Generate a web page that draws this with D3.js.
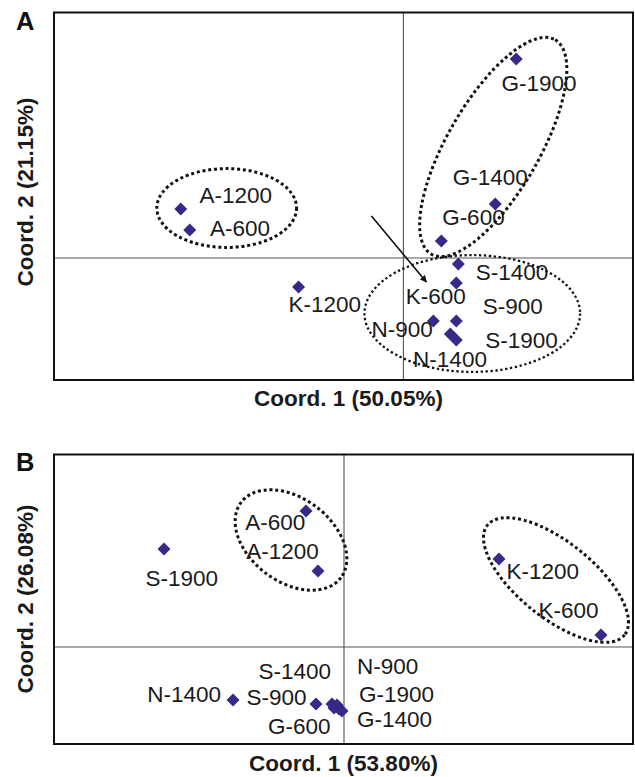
<!DOCTYPE html>
<html><head><meta charset="utf-8">
<script src="https://cdn.jsdelivr.net/npm/d3@7"></script>
<style>
body{margin:0;background:#fff}
text{font-family:"Liberation Sans",Arial,Helvetica,sans-serif}
</style></head>
<body><svg id="chart" width="635" height="777"></svg>
<script>
// ---------- Panel A data ----------
const samplesA = ["A-1200","A-600","K-1200","G-1900","G-1400","G-600","S-1400","K-600","S-900","N-900","N-1400","S-1900"];
const coord1A  = [-0.223,-0.214,-0.105, 0.113, 0.092, 0.038, 0.055, 0.053, 0.053, 0.030, 0.047, 0.053];
const coord2A  = [ 0.049, 0.028,-0.029, 0.199, 0.054, 0.017,-0.006,-0.025,-0.063,-0.063,-0.076,-0.082];
const axisTitlesA = ["Coord. 1 (50.05%)","Coord. 2 (21.15%)"];
// groups: name, centre (coord1, coord2), semi-axes, rotation (deg)
const groupsA = ["A","G","S"];
const groupCx_A = [-0.177, 0.090, 0.069];
const groupCy_A = [ 0.050, 0.111,-0.0555];
const groupRa_A = [ 0.070, 0.124, 0.108];
const groupRb_A = [ 0.0395,0.046, 0.0585];
const groupRot_A = [0, -60, 0];
const arrowA = [[-0.032, 0.042],[0.023,-0.024]];

// ---------- Panel B data ----------
const samplesB = ["A-600","A-1200","S-1900","K-1200","K-600","N-1400","S-900","S-1400","G-600","N-900","G-1900","G-1400"];
const coord1B  = [-0.038,-0.026,-0.180, 0.155, 0.257,-0.111,-0.028,-0.012,-0.010,-0.007,-0.005,-0.002];
const coord2B  = [ 0.136, 0.076, 0.098, 0.088, 0.012,-0.053,-0.057,-0.057,-0.061,-0.058,-0.062,-0.064];
const axisTitlesB = ["Coord. 1 (53.80%)","Coord. 2 (26.08%)"];
const groupsB = ["A","K"];
const groupCx_B = [-0.053, 0.212];
const groupCy_B = [ 0.107, 0.067];
const groupRa_B = [ 0.0625, 0.0878];
const groupRb_B = [ 0.0417, 0.0379];
const groupRot_B = [37, 38.7];

// label placement offsets (px) relative to each point
const labelDxA = [18.8, 20.3,-10,-14.8,-42.5, 0.8, 17.5,-50.6, 26.4,-61.8,-37.2, 29];
const labelDyA = [-6, 6, 25.4, 31.7,-19.5,-15.7, 15.8, 21,-7, 15.7, 32.7, 7.8];
const labelDxB = [-60.7,-71.8,-18.6, 7.5,-62.4,-85.7,-69.5,-73.5,-66, 20, 20, 15];
const labelDyB = [18.5,-12.4, 36.7, 19.5,-17.2, 1.7, 1.4,-25, 25.8,-31.2,-6.8, 16.3];

const svg = d3.select("#chart");
const defs = svg.append("defs");
defs.append("marker").attr("id","ah").attr("viewBox","0 0 10 10")
  .attr("refX",9).attr("refY",5).attr("markerWidth",7).attr("markerHeight",7)
  .attr("markerUnits","userSpaceOnUse").attr("orient","auto")
  .append("path").attr("d","M0,0 L10,5 L0,10 z").attr("fill","#111");

const pointColor = "#352a87";
const diamond = d3.symbol().type(d3.symbolSquare).size(84);

function drawPanel(cfg){
  const g = svg.append("g");
  const x = d3.scaleLinear().domain(cfg.xDomain).range([cfg.left, cfg.right]);
  const y = d3.scaleLinear().domain(cfg.yDomain).range([cfg.bottom, cfg.top]);
  // crosshair at origin
  g.append("line").attr("x1",x(0)).attr("x2",x(0)).attr("y1",cfg.top).attr("y2",cfg.bottom)
    .attr("stroke","#555").attr("stroke-width",1.1);
  g.append("line").attr("x1",cfg.left).attr("x2",cfg.right).attr("y1",y(0)).attr("y2",y(0))
    .attr("stroke","#555").attr("stroke-width",1.1);
  // group ellipses
  cfg.groups.forEach((name,i)=>{
    const cx = x(cfg.gcx[i]), cy = y(cfg.gcy[i]);
    g.append("ellipse").attr("cx",cx).attr("cy",cy)
      .attr("rx", x(cfg.gra[i]) - x(0)).attr("ry", x(cfg.grb[i]) - x(0))
      .attr("transform",`rotate(${cfg.grot[i]},${cx},${cy})`)
      .attr("fill","none").attr("stroke","#111")
      .attr("stroke-width", cfg.gw ? cfg.gw[i] : 3)
      .attr("stroke-dasharray", cfg.gd ? cfg.gd[i] : "3 2.8");
  });
  // frame
  g.append("rect").attr("x",cfg.left).attr("y",cfg.top)
    .attr("width",cfg.right-cfg.left).attr("height",cfg.bottom-cfg.top)
    .attr("fill","none").attr("stroke","#111").attr("stroke-width",2);
  // arrow
  if (cfg.arrow){
    g.append("line").attr("x1",x(cfg.arrow[0][0])).attr("y1",y(cfg.arrow[0][1]))
      .attr("x2",x(cfg.arrow[1][0])).attr("y2",y(cfg.arrow[1][1]))
      .attr("stroke","#111").attr("stroke-width",1.6).attr("marker-end","url(#ah)");
  }
  const data = cfg.samples.map((s,i)=>({s, c1:cfg.c1[i], c2:cfg.c2[i], dx:cfg.ldx[i], dy:cfg.ldy[i]}));
  // points
  g.selectAll("path.pt").data(data).join("path").attr("class","pt")
    .attr("d",diamond)
    .attr("transform",d=>`translate(${x(d.c1)},${y(d.c2)}) rotate(45)`)
    .attr("fill",pointColor);
  // labels
  g.selectAll("text.lab").data(data).join("text").attr("class","lab")
    .attr("x",d=>x(d.c1)+d.dx).attr("y",d=>y(d.c2)+d.dy)
    .attr("font-size",22.5).attr("fill","#1a1a1a").text(d=>d.s);
  // axis titles
  g.append("text").attr("x",(cfg.left+cfg.right)/2 + cfg.xtShift).attr("y",cfg.xtY)
    .attr("text-anchor","middle").attr("font-weight","bold").attr("font-size",22.5)
    .attr("fill","#1a1a1a").text(cfg.titles[0]);
  g.append("text").attr("transform",`translate(33,${cfg.ytY}) rotate(-90)`)
    .attr("text-anchor","middle").attr("font-weight","bold").attr("font-size",22.5)
    .attr("fill","#1a1a1a").text(cfg.titles[1]);
  // panel letter
  g.append("text").attr("x",16).attr("y",cfg.letterY).attr("font-weight","bold")
    .attr("font-size",25.5).attr("fill","#111").text(cfg.letter);
}

drawPanel({
  letter:"A", letterY:29.5,
  left:54, right:633, top:12.5, bottom:380,
  xDomain:[-0.35,0.23], yDomain:[-0.122,0.2455],
  samples:samplesA, c1:coord1A, c2:coord2A, ldx:labelDxA, ldy:labelDyA,
  groups:groupsA, gcx:groupCx_A, gcy:groupCy_A, gra:groupRa_A, grb:groupRb_A, grot:groupRot_A,
  gw:[3,3,2.3], gd:["3 2.8","3 2.8","2.3 2.6"],
  arrow:arrowA, titles:axisTitlesA, xtShift:5, xtY:406, ytY:192
});
drawPanel({
  letter:"B", letterY:470.7,
  left:54, right:633, top:454.5, bottom:744,
  xDomain:[-0.29,0.289], yDomain:[-0.097,0.1925],
  samples:samplesB, c1:coord1B, c2:coord2B, ldx:labelDxB, ldy:labelDyB,
  groups:groupsB, gcx:groupCx_B, gcy:groupCy_B, gra:groupRa_B, grb:groupRb_B, grot:groupRot_B,
  titles:axisTitlesB, xtShift:0, xtY:771, ytY:599
});
</script></body></html>
